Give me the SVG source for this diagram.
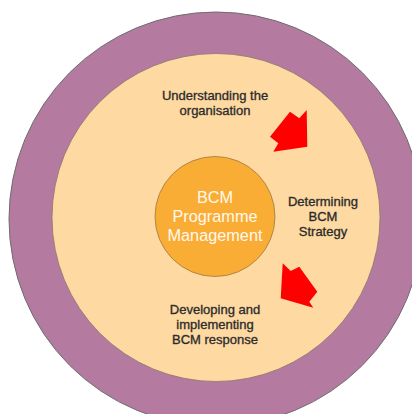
<svg xmlns="http://www.w3.org/2000/svg" width="412" height="414" viewBox="0 0 412 414">
<style>
.lbl{font-family:"Liberation Sans",Arial,sans-serif;font-size:13px;fill:#1e1e1e;stroke:#3a3a3a;stroke-width:0.35;text-anchor:middle}
.ctr{font-family:"Liberation Sans",Arial,sans-serif;font-size:16.3px;fill:#fff8ee;text-anchor:middle}
.arrow{fill:#ff0000}
</style>
<rect width="412" height="414" fill="#ffffff"/>
<g id="outer-ring">
<circle cx="216" cy="219" r="207" fill="#b47a9f" stroke="#6e6e6e" stroke-width="1"/>
</g>
<g id="inner-area">
<circle cx="216" cy="217.5" r="164" fill="#fed9a2" stroke="#8a7a6a" stroke-width="0.8"/>
</g>
<g id="center">
<circle cx="215" cy="216.5" r="60" fill="#f9ad35" stroke="#9a7a45" stroke-width="0.8"/>
<text class="ctr" x="215" y="203">BCM</text>
<text class="ctr" x="215" y="222">Programme</text>
<text class="ctr" x="215" y="240.5">Management</text>
</g>
<g id="understanding">
<text class="lbl" x="215" y="100">Understanding the</text>
<text class="lbl" x="215" y="115">organisation</text>
</g>
<g id="determining">
<text class="lbl" x="323" y="206">Determining</text>
<text class="lbl" x="323" y="221">BCM</text>
<text class="lbl" x="323" y="236">Strategy</text>
</g>
<g id="developing">
<text class="lbl" x="215" y="314">Developing and</text>
<text class="lbl" x="215" y="329">implementing</text>
<text class="lbl" x="215" y="344">BCM response</text>
</g>
<g id="connectors">
<polygon class="arrow" points="290,111.7 299.3,118.3 306.7,110 307.3,146.7 273.3,151.7 278.3,143.3 270,136.7"/>
<polygon class="arrow" points="282.7,263.3 290.7,271 299.3,266.7 317.3,291.7 309.3,301.7 313.3,307.7 280.7,298.3"/>
</g>
</svg>
